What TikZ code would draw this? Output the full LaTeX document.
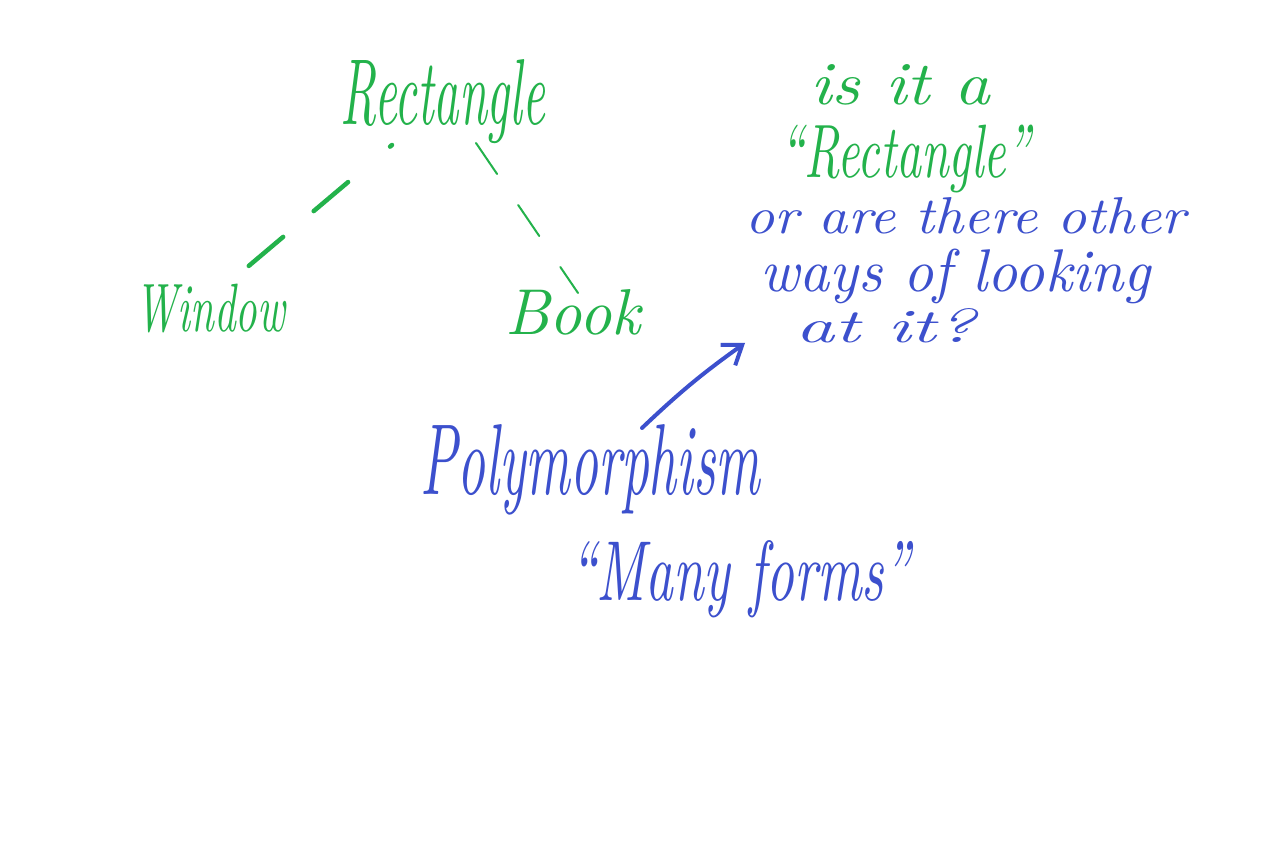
\documentclass[tikz,border=0pt]{standalone}
\usetikzlibrary{arrows.meta}
\definecolor{pgreen}{RGB}{35,178,75}
\definecolor{pblue}{RGB}{60,80,205}
\tikzset{
  gtext/.style={text=pgreen, inner sep=0pt, font=\itshape, anchor=base west},
  btext/.style={text=pblue, inner sep=0pt, font=\itshape, anchor=base west},
  gdash/.style={draw=pgreen, line width=0.09cm, line cap=round, dash pattern=on 0.05cm off 1.1cm on 0.9cm off 0.8cm on 0.9cm off 0.8cm on 0.9cm off 0.8cm on 0.9cm off 0.8cm},
  gdashthin/.style={draw=pgreen, line width=0.04cm, line cap=round, dash pattern=on 0.75cm off 0.75cm},
  barrow/.style={draw=pblue, line width=0.08cm, line cap=round, -{Straight Barb[length=0.35cm,width=0.5cm,line width=0.08cm]}}
}
\newcommand{\fitwh}[3]{\resizebox{#1}{#2}{#3}}
\begin{document}
\begin{tikzpicture}[x=0.02cm,y=-0.02cm]
\useasboundingbox[fill=white] (0,0) rectangle (1264,847);
% green part
\node[gtext] (rect) at (340,125) {\fitwh{4.1cm}{1.3cm}{Rectangle}};
\node[gtext] (window) at (135,332) {\fitwh{3.0cm}{0.95cm}{Window}};
\node[gtext] (book) at (505,335) {\fitwh{2.7cm}{0.9cm}{Book}};
\coordinate (l1) at (392,145);
\coordinate (l2) at (238,275);
\coordinate (r1) at (476,143);
\coordinate (r2) at (578,293);
\draw[gdash] (l1) -- (l2);
\draw[gdashthin] (r1) -- (r2);
\node[gtext] (isit) at (810,105) {\fitwh{3.6cm}{0.8cm}{is it a}};
\node[gtext] (rect2) at (780,178) {\fitwh{5.0cm}{1.05cm}{``Rectangle''}};
% blue part
\node[btext] (q1) at (745,234) {\fitwh{8.8cm}{0.72cm}{or are there other}};
\node[btext] (q2) at (760,292) {\fitwh{7.8cm}{0.85cm}{ways of looking}};
\node[btext] (q3) at (795,343) {\fitwh{3.6cm}{0.68cm}{at it?}};
\node[btext] (poly) at (420,495) {\fitwh{6.8cm}{1.4cm}{Polymorphism}};
\node[btext] (many) at (570,600) {\fitwh{6.8cm}{1.2cm}{``Many forms''}};
\coordinate (a1) at (642,428);
\coordinate (a2) at (745,343);
\draw[barrow] (a1) to[bend left=4] (a2);
\end{tikzpicture}
\end{document}
